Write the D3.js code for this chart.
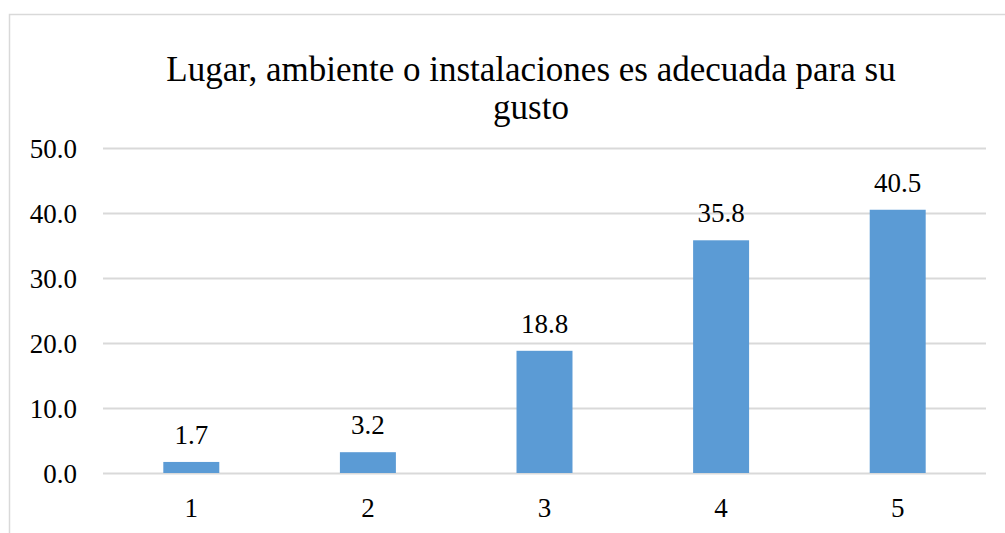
<!DOCTYPE html>
<html>
<head>
<meta charset="utf-8">
<script src="https://cdn.jsdelivr.net/npm/d3@7"></script>
<style>
  body { margin: 0; background: #fff; }
  text { font-family: 'Liberation Serif', 'Times New Roman', Times, serif; }
</style>
</head>
<body>
<div id="chart"></div>
<script>
// data
var categories = ['1', '2', '3', '4', '5'];
var values = [1.7, 3.2, 18.8, 35.8, 40.5];
var yTicks = [0, 10, 20, 30, 40, 50];
var titleLines = ['Lugar, ambiente o instalaciones es adecuada para su', 'gusto'];

var width = 1005, height = 533;
var margin = {left: 103, right: 19, top: 148, bottom: 60};
var FONT = "'Liberation Serif', 'Times New Roman', Times, serif";

var svg = d3.select('#chart').append('svg')
    .attr('width', width)
    .attr('height', height)
    .style('display', 'block');

// outer chart border (runs off the right and bottom edge)
svg.append('rect')
    .attr('x', 9.5).attr('y', 14.5)
    .attr('width', 1100).attr('height', 600)
    .attr('fill', 'none')
    .attr('stroke', '#d9d9d9')
    .attr('stroke-width', 1.5);

var x = d3.scaleBand()
    .domain(categories)
    .range([margin.left, width - margin.right])
    .paddingInner(0.683)
    .paddingOuter(0.3415);

var y = d3.scaleLinear()
    .domain([0, 50])
    .range([473, margin.top]);

// gridlines
svg.append('g').selectAll('line')
    .data(yTicks)
    .join('line')
    .attr('x1', margin.left)
    .attr('x2', width - margin.right)
    .attr('y1', d => Math.round(y(d)) + 0.5)
    .attr('y2', d => Math.round(y(d)) + 0.5)
    .attr('stroke', '#d9d9d9')
    .attr('stroke-width', 2);

// y labels
svg.append('g').selectAll('text')
    .data(yTicks)
    .join('text')
    .attr('x', 77)
    .attr('y', d => y(d) + 10)
    .attr('text-anchor', 'end')
    .attr('font-family', FONT)
    .attr('font-size', 27)
    .attr('fill', '#000')
    .text(d => d3.format('.1f')(d));

// bars
svg.append('g').selectAll('rect')
    .data(values)
    .join('rect')
    .attr('x', (d, i) => x(categories[i]))
    .attr('width', x.bandwidth())
    .attr('y', d => y(d))
    .attr('height', d => y(0) - y(d))
    .attr('fill', '#5b9bd5');

// value labels
svg.append('g').selectAll('text')
    .data(values)
    .join('text')
    .attr('x', (d, i) => x(categories[i]) + x.bandwidth() / 2)
    .attr('y', d => y(d) - 18)
    .attr('text-anchor', 'middle')
    .attr('font-family', FONT)
    .attr('font-size', 27)
    .attr('fill', '#000')
    .text(d => d3.format('.1f')(d));

// category labels
svg.append('g').selectAll('text')
    .data(categories)
    .join('text')
    .attr('x', d => x(d) + x.bandwidth() / 2)
    .attr('y', 517)
    .attr('text-anchor', 'middle')
    .attr('font-family', FONT)
    .attr('font-size', 27)
    .attr('fill', '#000')
    .text(d => d);

// title
svg.append('g').selectAll('text')
    .data(titleLines)
    .join('text')
    .attr('x', 531)
    .attr('y', (d, i) => 81 + i * 38)
    .attr('text-anchor', 'middle')
    .attr('font-family', FONT)
    .attr('font-size', 35)
    .attr('fill', '#000')
    .text(d => d);
</script>
</body>
</html>
